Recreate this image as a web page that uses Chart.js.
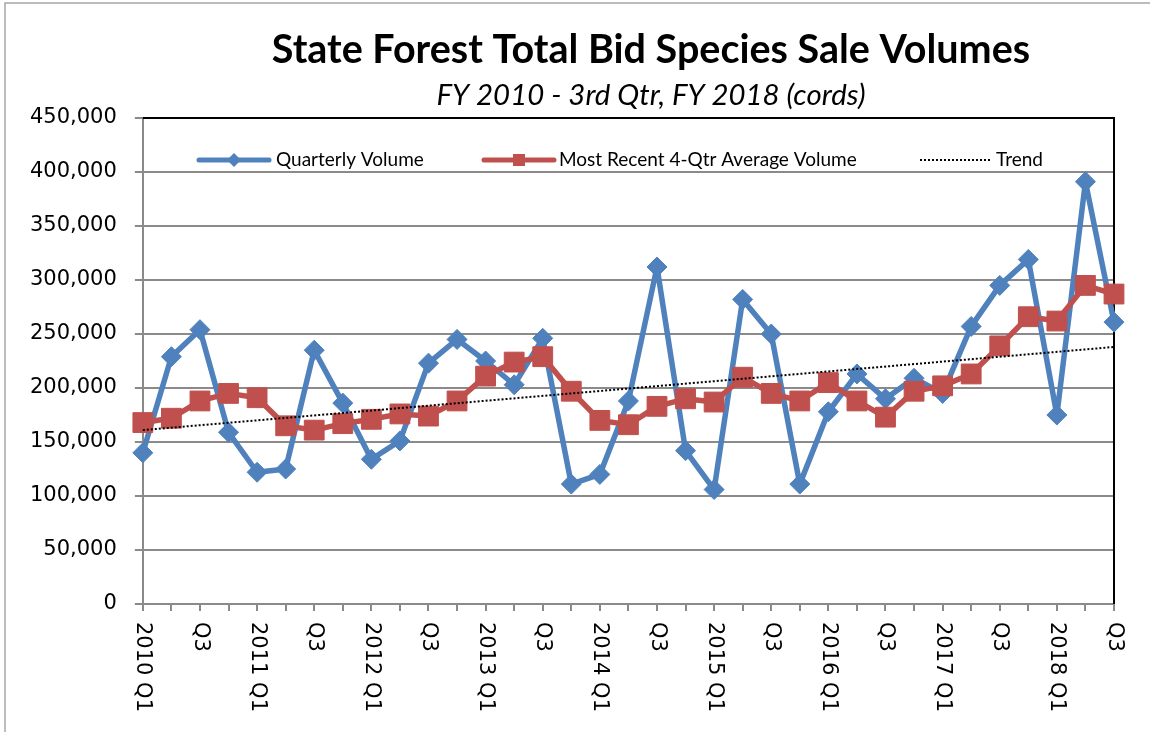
<!DOCTYPE html>
<html>
<head>
<meta charset="utf-8">
<script src="https://cdn.jsdelivr.net/npm/chart.js@4"></script>
<style>
  html, body { margin: 0; padding: 0; background: #fff; }
  #wrap { width: 1158px; height: 732px; }
</style>
</head>
<body>
<div id="wrap"><canvas id="volumes" width="1158" height="732"></canvas></div>
<script>
const quarters = [
  "2010 Q1", "2010 Q2", "2010 Q3", "2010 Q4", "2011 Q1", "2011 Q2", "2011 Q3", "2011 Q4",
  "2012 Q1", "2012 Q2", "2012 Q3", "2012 Q4", "2013 Q1", "2013 Q2", "2013 Q3", "2013 Q4",
  "2014 Q1", "2014 Q2", "2014 Q3", "2014 Q4", "2015 Q1", "2015 Q2", "2015 Q3", "2015 Q4",
  "2016 Q1", "2016 Q2", "2016 Q3", "2016 Q4", "2017 Q1", "2017 Q2", "2017 Q3", "2017 Q4",
  "2018 Q1", "2018 Q2", "2018 Q3"
];
const tickLabels = [
  "2010 Q1", "", "Q3", "", "2011 Q1", "", "Q3", "",
  "2012 Q1", "", "Q3", "", "2013 Q1", "", "Q3", "",
  "2014 Q1", "", "Q3", "", "2015 Q1", "", "Q3", "",
  "2016 Q1", "", "Q3", "", "2017 Q1", "", "Q3", "",
  "2018 Q1", "", "Q3"
];
const quarterlyVolume = [
  140000, 229000, 254000, 159000, 122000, 125000, 235000, 186000,
  134000, 151000, 223000, 245000, 225000, 203000, 246000, 111000,
  120000, 188000, 312000, 142000, 106000, 282000, 250000, 111000,
  178000, 213000, 190000, 209000, 195000, 257000, 295000, 319000,
  175000, 391000, 261000
];
const avgVolume = [
  168000, 172000, 188000, 195000, 191000, 165000, 161000, 167000,
  171000, 176000, 174000, 188000, 211000, 224000, 229000, 197000,
  170000, 166000, 183000, 190000, 187000, 210000, 195000, 188000,
  205000, 188000, 173000, 197000, 202000, 213000, 239000, 266000,
  262000, 295000, 287000
];
// trendline read at first and last quarter
const trendStart = 161000;
const trendEnd = 238000;
const yMin = 0, yMax = 450000, yStep = 50000;

const BLUE = "#4F81BD";
const RED = "#C0504D";
const GRID = "#8a8a8a";

function fitFont(ctx, text, style, family, width) {
  ctx.font = style + " 100px " + family;
  const size = 100 * width / ctx.measureText(text).width;
  return style + " " + size.toFixed(1) + "px " + family;
}

const decorations = {
  id: "decorations",
  beforeDatasetsDraw(chart) {
    const ctx = chart.ctx;
    const a = chart.chartArea;
    ctx.save();
    ctx.strokeStyle = "#000";
    ctx.lineWidth = 2;
    ctx.beginPath();
    ctx.moveTo(a.left, a.top);
    ctx.lineTo(a.right, a.top);
    ctx.lineTo(a.right, a.bottom);
    ctx.stroke();
    ctx.restore();
  },
  afterDraw(chart) {
    const ctx = chart.ctx;
    const a = chart.chartArea;
    const xs = chart.scales.x;
    ctx.save();

    // outer frame
    ctx.strokeStyle = "#a6a6a6";
    ctx.lineWidth = 1.5;
    ctx.beginPath();
    ctx.moveTo(5, 732);
    ctx.lineTo(5, 3);
    ctx.lineTo(1150, 3);
    ctx.stroke();

    // rotated x labels, reading top to bottom
    ctx.fillStyle = "#000";
    ctx.font = '21px "DejaVu Sans"';
    ctx.textAlign = "left";
    ctx.textBaseline = "middle";
    tickLabels.forEach((t, i) => {
      if (!t) return;
      ctx.save();
      ctx.translate(xs.getPixelForTick(i), a.bottom + 18);
      ctx.rotate(Math.PI / 2);
      ctx.fillText(t, 0, 0);
      ctx.restore();
    });

    // titles
    ctx.textAlign = "center";
    const title = "State Forest Total Bid Species Sale Volumes";
    const sub = "FY 2010 - 3rd Qtr, FY 2018 (cords)";
    ctx.font = fitFont(ctx, title, "bold", "Lato", 758);
    ctx.fillText(title, 651, 50);
    ctx.font = fitFont(ctx, sub, "italic", "Lato", 429);
    ctx.fillText(sub, 651, 96);

    // legend
    const ly = 160;
    ctx.lineCap = "round";
    ctx.lineWidth = 5;
    ctx.strokeStyle = BLUE;
    ctx.beginPath(); ctx.moveTo(199, ly); ctx.lineTo(269, ly); ctx.stroke();
    ctx.fillStyle = BLUE;
    ctx.beginPath();
    ctx.moveTo(234, ly - 7); ctx.lineTo(241, ly); ctx.lineTo(234, ly + 7); ctx.lineTo(227, ly);
    ctx.closePath(); ctx.fill();

    ctx.strokeStyle = RED;
    ctx.beginPath(); ctx.moveTo(484, ly); ctx.lineTo(554, ly); ctx.stroke();
    ctx.fillStyle = RED;
    ctx.fillRect(513, ly - 6, 12, 12);

    ctx.lineCap = "butt";
    ctx.lineWidth = 2;
    ctx.strokeStyle = "#000";
    ctx.setLineDash([2, 2]);
    ctx.beginPath(); ctx.moveTo(920, ly); ctx.lineTo(990, ly); ctx.stroke();
    ctx.setLineDash([]);

    ctx.fillStyle = "#000";
    ctx.font = '19px Lato';
    ctx.textAlign = "left";
    ctx.fillText("Quarterly Volume", 276, ly);
    ctx.fillText("Most Recent 4-Qtr Average Volume", 559, ly);
    ctx.fillText("Trend", 996, ly);

    ctx.restore();
  }
};

new Chart(document.getElementById("volumes"), {
  type: "line",
  data: {
    labels: quarters,
    datasets: [
      {
        label: "Quarterly Volume",
        data: quarterlyVolume,
        borderColor: BLUE,
        backgroundColor: BLUE,
        borderWidth: 5.5,
        borderJoinStyle: "round",
        pointStyle: "rectRot",
        pointRadius: 10,
        pointBorderWidth: 1,
        pointBorderColor: BLUE,
        tension: 0,
        fill: false,
        clip: false,
        order: 3,
      },
      {
        label: "Most Recent 4-Qtr Average Volume",
        data: avgVolume,
        borderColor: RED,
        backgroundColor: RED,
        borderWidth: 5.5,
        borderJoinStyle: "round",
        pointStyle: "rect",
        pointRadius: 14,
        pointBorderWidth: 1,
        pointBorderColor: RED,
        tension: 0,
        fill: false,
        clip: false,
        order: 2,
      },
      {
        label: "Trend",
        data: [
          { x: quarters[0], y: trendStart },
          { x: quarters[quarters.length - 1], y: trendEnd },
        ],
        borderColor: "#000",
        borderWidth: 2,
        borderDash: [2, 2],
        pointRadius: 0,
        fill: false,
        order: 1,
      },
    ],
  },
  options: {
    responsive: false,
    animation: false,
    devicePixelRatio: 1,
    layout: {
      padding: { left: 12, right: 44, top: 118, bottom: 121 },
    },
    scales: {
      x: {
        offset: false,
        ticks: { display: false },
        grid: {
          display: true,
          drawOnChartArea: false,
          drawTicks: true,
          tickLength: 7,
          color: GRID,
          lineWidth: 2,
        },
        border: { color: GRID, width: 2 },
      },
      y: {
        min: yMin,
        max: yMax,
        ticks: {
          stepSize: yStep,
          color: "#000",
          padding: 18,
          font: { family: "DejaVu Sans", size: 21 },
          callback: (v) => v.toLocaleString("en-US"),
        },
        grid: { color: GRID, lineWidth: 2, tickLength: 8 },
        border: { color: GRID, width: 2 },
      },
    },
    plugins: {
      legend: { display: false },
      tooltip: { enabled: false },
    },
  },
  plugins: [decorations],
});
</script>
</body>
</html>
